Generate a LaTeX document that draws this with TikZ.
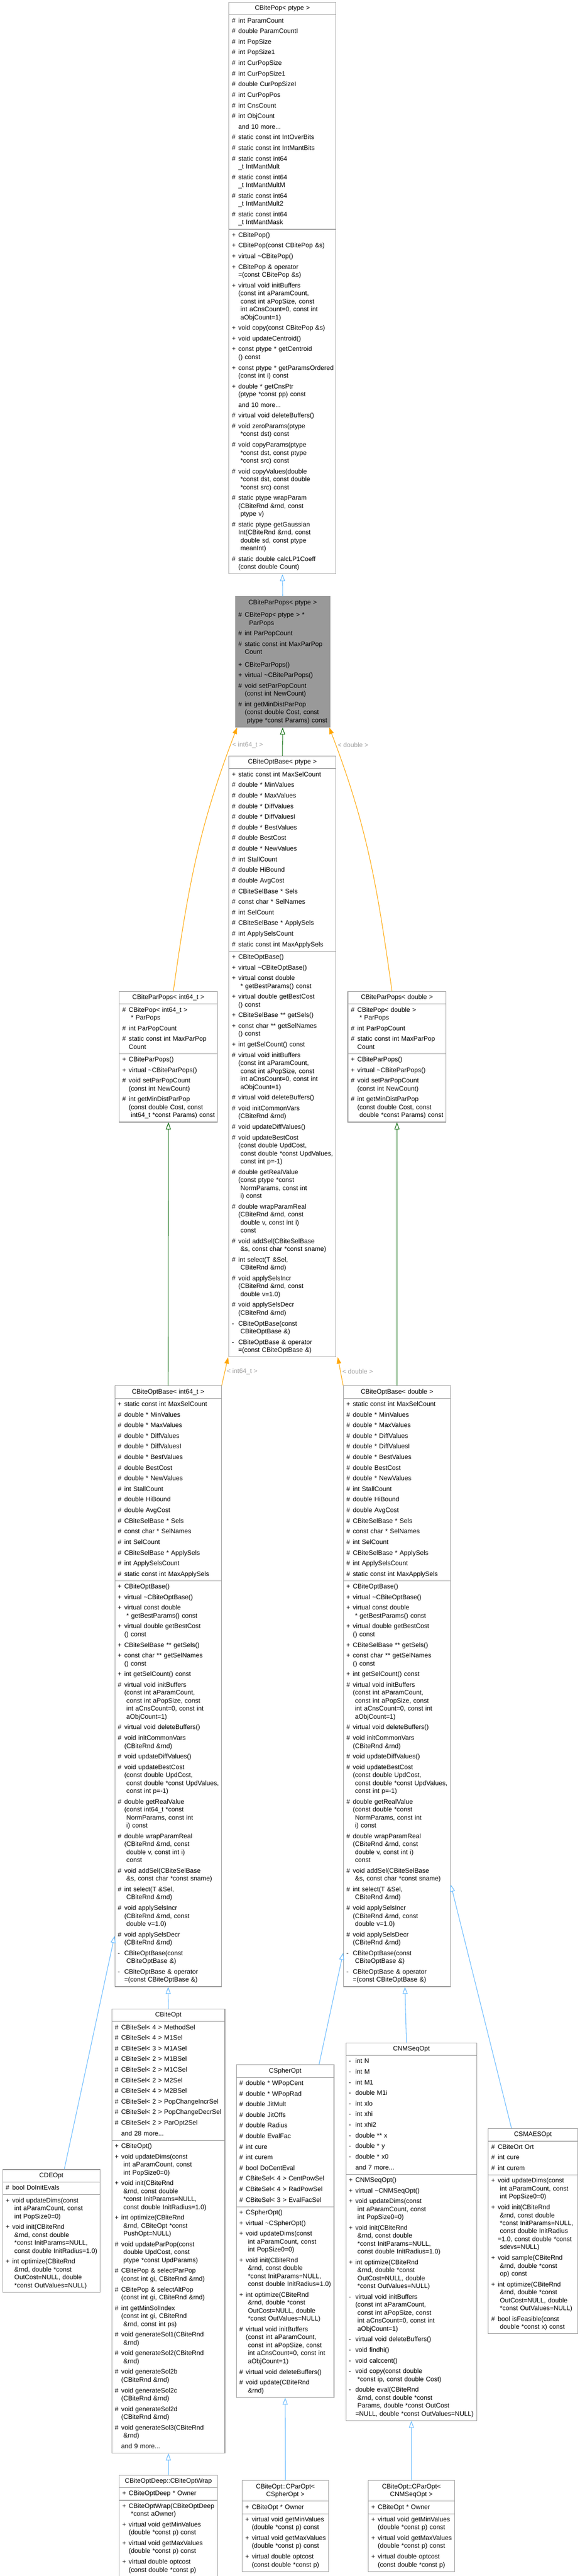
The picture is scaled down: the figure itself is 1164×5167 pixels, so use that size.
\documentclass[tikz,border=0pt]{standalone}
\usepackage{fontspec}
\setmainfont{Liberation Sans}
\usetikzlibrary{shapes.multipart,arrows.meta}
\definecolor{boxgray}{HTML}{999999}
\definecolor{edgeblue}{HTML}{63B8FF}
\definecolor{edgegreen}{HTML}{006400}
\definecolor{edgeorange}{HTML}{FFA500}
\definecolor{lblgray}{HTML}{A0A0A0}
\newcommand{\ttl}[1]{\makebox[\linewidth]{\begin{tabular}[t]{@{}c@{}}#1\end{tabular}}}
\newcommand{\mbrs}[1]{\begin{tabular}[t]{@{}l@{\hspace{5pt}}l@{}}#1\end{tabular}}
\newcommand{\ml}[1]{\begin{tabular}[t]{@{}l@{}}#1\end{tabular}}
\newcommand{\fr}[2]{\makebox[8pt][l]{#1}&#2\\}
\newcommand{\rw}[2]{\rule{0pt}{16.5pt}\makebox[8pt][l]{#1}&#2\\}
\begin{document}
\begin{tikzpicture}[x=1pt,y=-1pt,
    cls/.style={draw=boxgray,line width=1.2pt,fill=white,rectangle split,rectangle split parts=3,
      anchor=north west,inner xsep=6pt,inner ysep=4pt,font=\fontsize{13}{16}\selectfont},
    pub/.style={draw=edgeblue,line width=1.1pt,-{Triangle[open,length=14pt,width=10pt]}},
    prot/.style={draw=edgegreen,line width=1.1pt,-{Triangle[open,length=14pt,width=10pt]}},
    tmpl/.style={draw=edgeorange,line width=1.1pt,-{Triangle[length=13pt,width=9pt]}},
    lbl/.style={text=lblgray,font=\fontsize{13}{16}\selectfont}]
    \useasboundingbox (0,0) rectangle (1164,5167);
    \draw (459,4) node[cls,text width=203pt](Pop) {\ttl{CBitePop< ptype >}
      \nodepart{second}\mbrs{\fr{\#}{int ParamCount}\rw{\#}{double ParamCountI}\rw{\#}{int PopSize}
        \rw{\#}{int PopSize1}\rw{\#}{int CurPopSize}\rw{\#}{int CurPopSize1}\rw{\#}{double CurPopSizeI}
        \rw{\#}{int CurPopPos}\rw{\#}{int CnsCount}\rw{\#}{int ObjCount}\rw{}{and 10 more...}
        \rw{\#}{static const int IntOverBits}\rw{\#}{static const int IntMantBits}
        \rw{\#}{\ml{static const int64\\\_t IntMantMult}}\rw{\#}{\ml{static const int64\\\_t IntMantMultM}}
        \rw{\#}{\ml{static const int64\\\_t IntMantMult2}}\rw{\#}{\ml{static const int64\\\_t IntMantMask}}}
      \nodepart{third}\mbrs{\fr{+}{CBitePop()}\rw{+}{CBitePop(const CBitePop \&s)}\rw{+}{virtual \textasciitilde CBitePop()}
        \rw{+}{\ml{CBitePop \& operator\\=(const CBitePop \&s)}}
        \rw{+}{\ml{virtual void initBuffers\\(const int aParamCount,\\~const int aPopSize, const\\~int aCnsCount=0, const int\\~aObjCount=1)}}
        \rw{+}{void copy(const CBitePop \&s)}\rw{+}{void updateCentroid()}
        \rw{+}{\ml{const ptype * getCentroid\\() const}}\rw{+}{\ml{const ptype * getParamsOrdered\\(const int i) const}}
        \rw{+}{\ml{double * getCnsPtr\\(ptype *const pp) const}}\rw{}{and 10 more...}
        \rw{\#}{virtual void deleteBuffers()}\rw{\#}{\ml{void zeroParams(ptype\\~*const dst) const}}
        \rw{\#}{\ml{void copyParams(ptype\\~*const dst, const ptype\\~*const src) const}}
        \rw{\#}{\ml{void copyValues(double\\~*const dst, const double\\~*const src) const}}
        \rw{\#}{\ml{static ptype wrapParam\\(CBiteRnd \&rnd, const\\~ptype v)}}
        \rw{\#}{\ml{static ptype getGaussian\\Int(CBiteRnd \&rnd, const\\~double sd, const ptype\\~meanInt)}}
        \rw{\#}{\ml{static double calcLP1Coeff\\(const double Count)}}}};
    \draw (472,1196) node[cls,fill=boxgray,text width=178pt](PP) {\ttl{CBiteParPops< ptype >}
      \nodepart{second}\mbrs{\fr{\#}{\ml{CBitePop< ptype > *\\~~ParPops}}\rw{\#}{int ParPopCount}
        \rw{\#}{\ml{static const int MaxParPop\\Count}}}
      \nodepart{third}\mbrs{\fr{+}{CBiteParPops()}\rw{+}{virtual \textasciitilde CBiteParPops()}
        \rw{\#}{\ml{void setParPopCount\\(const int NewCount)}}
        \rw{\#}{\ml{int getMinDistParPop\\(const double Cost, const\\~ptype *const Params) const}}}};
    \draw (459,1516) node[cls,text width=203pt](OB) {\ttl{CBiteOptBase< ptype >}
      \nodepart{second}\mbrs{\fr{+}{static const int MaxSelCount}\rw{\#}{double * MinValues}\rw{\#}{double * MaxValues}
        \rw{\#}{double * DiffValues}\rw{\#}{double * DiffValuesI}\rw{\#}{double * BestValues}\rw{\#}{double BestCost}
        \rw{\#}{double * NewValues}\rw{\#}{int StallCount}\rw{\#}{double HiBound}\rw{\#}{double AvgCost}
        \rw{\#}{CBiteSelBase * Sels}\rw{\#}{const char * SelNames}\rw{\#}{int SelCount}
        \rw{\#}{CBiteSelBase * ApplySels}\rw{\#}{int ApplySelsCount}\rw{\#}{static const int MaxApplySels}}
      \nodepart{third}\mbrs{\fr{+}{CBiteOptBase()}\rw{+}{virtual \textasciitilde CBiteOptBase()}
        \rw{+}{\ml{virtual const double\\~* getBestParams() const}}\rw{+}{\ml{virtual double getBestCost\\() const}}
        \rw{+}{CBiteSelBase ** getSels()}\rw{+}{\ml{const char ** getSelNames\\() const}}\rw{+}{int getSelCount() const}
        \rw{\#}{\ml{virtual void initBuffers\\(const int aParamCount,\\~const int aPopSize, const\\~int aCnsCount=0, const int\\~aObjCount=1)}}
        \rw{\#}{virtual void deleteBuffers()}\rw{\#}{\ml{void initCommonVars\\(CBiteRnd \&rnd)}}\rw{\#}{void updateDiffValues()}
        \rw{\#}{\ml{void updateBestCost\\(const double UpdCost,\\~const double *const UpdValues,\\~const int p=-1)}}
        \rw{\#}{\ml{double getRealValue\\(const ptype *const\\~NormParams, const int\\~i) const}}
        \rw{\#}{\ml{double wrapParamReal\\(CBiteRnd \&rnd, const\\~double v, const int i)\\~const}}
        \rw{\#}{\ml{void addSel(CBiteSelBase\\~\&s, const char *const sname)}}\rw{\#}{\ml{int select(T \&Sel,\\~CBiteRnd \&rnd)}}
        \rw{\#}{\ml{void applySelsIncr\\(CBiteRnd \&rnd, const\\~double v=1.0)}}\rw{\#}{\ml{void applySelsDecr\\(CBiteRnd \&rnd)}}
        \rw{-}{\ml{CBiteOptBase(const\\~CBiteOptBase \&)}}\rw{-}{\ml{CBiteOptBase \& operator\\=(const CBiteOptBase \&)}}}};
    \draw (239,1988) node[cls,text width=185pt](PPi) {\ttl{CBiteParPops< int64\_t >}
      \nodepart{second}\mbrs{\fr{\#}{\ml{CBitePop< int64\_t >\\~* ParPops}}\rw{\#}{int ParPopCount}
        \rw{\#}{\ml{static const int MaxParPop\\Count}}}
      \nodepart{third}\mbrs{\fr{+}{CBiteParPops()}\rw{+}{virtual \textasciitilde CBiteParPops()}
        \rw{\#}{\ml{void setParPopCount\\(const int NewCount)}}
        \rw{\#}{\ml{int getMinDistParPop\\(const double Cost, const\\~int64\_t *const Params) const}}}};
    \draw (698,1988) node[cls,text width=185pt](PPd) {\ttl{CBiteParPops< double >}
      \nodepart{second}\mbrs{\fr{\#}{\ml{CBitePop< double >\\~* ParPops}}\rw{\#}{int ParPopCount}
        \rw{\#}{\ml{static const int MaxParPop\\Count}}}
      \nodepart{third}\mbrs{\fr{+}{CBiteParPops()}\rw{+}{virtual \textasciitilde CBiteParPops()}
        \rw{\#}{\ml{void setParPopCount\\(const int NewCount)}}
        \rw{\#}{\ml{int getMinDistParPop\\(const double Cost, const\\~double *const Params) const}}}};
    \draw (230,2779) node[cls,text width=202pt](OBi) {\ttl{CBiteOptBase< int64\_t >}
      \nodepart{second}\mbrs{\fr{+}{static const int MaxSelCount}\rw{\#}{double * MinValues}\rw{\#}{double * MaxValues}
        \rw{\#}{double * DiffValues}\rw{\#}{double * DiffValuesI}\rw{\#}{double * BestValues}\rw{\#}{double BestCost}
        \rw{\#}{double * NewValues}\rw{\#}{int StallCount}\rw{\#}{double HiBound}\rw{\#}{double AvgCost}
        \rw{\#}{CBiteSelBase * Sels}\rw{\#}{const char * SelNames}\rw{\#}{int SelCount}
        \rw{\#}{CBiteSelBase * ApplySels}\rw{\#}{int ApplySelsCount}\rw{\#}{static const int MaxApplySels}}
      \nodepart{third}\mbrs{\fr{+}{CBiteOptBase()}\rw{+}{virtual \textasciitilde CBiteOptBase()}
        \rw{+}{\ml{virtual const double\\~* getBestParams() const}}\rw{+}{\ml{virtual double getBestCost\\() const}}
        \rw{+}{CBiteSelBase ** getSels()}\rw{+}{\ml{const char ** getSelNames\\() const}}\rw{+}{int getSelCount() const}
        \rw{\#}{\ml{virtual void initBuffers\\(const int aParamCount,\\~const int aPopSize, const\\~int aCnsCount=0, const int\\~aObjCount=1)}}
        \rw{\#}{virtual void deleteBuffers()}\rw{\#}{\ml{void initCommonVars\\(CBiteRnd \&rnd)}}\rw{\#}{void updateDiffValues()}
        \rw{\#}{\ml{void updateBestCost\\(const double UpdCost,\\~const double *const UpdValues,\\~const int p=-1)}}
        \rw{\#}{\ml{double getRealValue\\(const int64\_t *const\\~NormParams, const int\\~i) const}}
        \rw{\#}{\ml{double wrapParamReal\\(CBiteRnd \&rnd, const\\~double v, const int i)\\~const}}
        \rw{\#}{\ml{void addSel(CBiteSelBase\\~\&s, const char *const sname)}}\rw{\#}{\ml{int select(T \&Sel,\\~CBiteRnd \&rnd)}}
        \rw{\#}{\ml{void applySelsIncr\\(CBiteRnd \&rnd, const\\~double v=1.0)}}\rw{\#}{\ml{void applySelsDecr\\(CBiteRnd \&rnd)}}
        \rw{-}{\ml{CBiteOptBase(const\\~CBiteOptBase \&)}}\rw{-}{\ml{CBiteOptBase \& operator\\=(const CBiteOptBase \&)}}}};
    \draw (689,2779) node[cls,text width=203pt](OBd) {\ttl{CBiteOptBase< double >}
      \nodepart{second}\mbrs{\fr{+}{static const int MaxSelCount}\rw{\#}{double * MinValues}\rw{\#}{double * MaxValues}
        \rw{\#}{double * DiffValues}\rw{\#}{double * DiffValuesI}\rw{\#}{double * BestValues}\rw{\#}{double BestCost}
        \rw{\#}{double * NewValues}\rw{\#}{int StallCount}\rw{\#}{double HiBound}\rw{\#}{double AvgCost}
        \rw{\#}{CBiteSelBase * Sels}\rw{\#}{const char * SelNames}\rw{\#}{int SelCount}
        \rw{\#}{CBiteSelBase * ApplySels}\rw{\#}{int ApplySelsCount}\rw{\#}{static const int MaxApplySels}}
      \nodepart{third}\mbrs{\fr{+}{CBiteOptBase()}\rw{+}{virtual \textasciitilde CBiteOptBase()}
        \rw{+}{\ml{virtual const double\\~* getBestParams() const}}\rw{+}{\ml{virtual double getBestCost\\() const}}
        \rw{+}{CBiteSelBase ** getSels()}\rw{+}{\ml{const char ** getSelNames\\() const}}\rw{+}{int getSelCount() const}
        \rw{\#}{\ml{virtual void initBuffers\\(const int aParamCount,\\~const int aPopSize, const\\~int aCnsCount=0, const int\\~aObjCount=1)}}
        \rw{\#}{virtual void deleteBuffers()}\rw{\#}{\ml{void initCommonVars\\(CBiteRnd \&rnd)}}\rw{\#}{void updateDiffValues()}
        \rw{\#}{\ml{void updateBestCost\\(const double UpdCost,\\~const double *const UpdValues,\\~const int p=-1)}}
        \rw{\#}{\ml{double getRealValue\\(const double *const\\~NormParams, const int\\~i) const}}
        \rw{\#}{\ml{double wrapParamReal\\(CBiteRnd \&rnd, const\\~double v, const int i)\\~const}}
        \rw{\#}{\ml{void addSel(CBiteSelBase\\~\&s, const char *const sname)}}\rw{\#}{\ml{int select(T \&Sel,\\~CBiteRnd \&rnd)}}
        \rw{\#}{\ml{void applySelsIncr\\(CBiteRnd \&rnd, const\\~double v=1.0)}}\rw{\#}{\ml{void applySelsDecr\\(CBiteRnd \&rnd)}}
        \rw{-}{\ml{CBiteOptBase(const\\~CBiteOptBase \&)}}\rw{-}{\ml{CBiteOptBase \& operator\\=(const CBiteOptBase \&)}}}};
    \draw (5,4351) node[cls,text width=183pt](DE) {\ttl{CDEOpt}
      \nodepart{second}\mbrs{\fr{\#}{bool DoInitEvals}}
      \nodepart{third}\mbrs{\fr{+}{\ml{void updateDims(const\\~int aParamCount, const\\~int PopSize0=0)}}
        \rw{+}{\ml{void init(CBiteRnd\\~\&rnd, const double\\~*const InitParams=NULL,\\~const double InitRadius=1.0)}}
        \rw{+}{\ml{int optimize(CBiteRnd\\~\&rnd, double *const\\~OutCost=NULL, double\\~*const OutValues=NULL)}}}};
    \draw (224,4029) node[cls,text width=215pt](BO) {\ttl{CBiteOpt}
      \nodepart{second}\mbrs{\fr{\#}{CBiteSel< 4 > MethodSel}\rw{\#}{CBiteSel< 4 > M1Sel}\rw{\#}{CBiteSel< 3 > M1ASel}
        \rw{\#}{CBiteSel< 2 > M1BSel}\rw{\#}{CBiteSel< 2 > M1CSel}\rw{\#}{CBiteSel< 2 > M2Sel}
        \rw{\#}{CBiteSel< 4 > M2BSel}\rw{\#}{CBiteSel< 2 > PopChangeIncrSel}\rw{\#}{CBiteSel< 2 > PopChangeDecrSel}
        \rw{\#}{CBiteSel< 2 > ParOpt2Sel}\rw{}{and 28 more...}}
      \nodepart{third}\mbrs{\fr{+}{CBiteOpt()}\rw{+}{\ml{void updateDims(const\\~int aParamCount, const\\~int PopSize0=0)}}
        \rw{+}{\ml{void init(CBiteRnd\\~\&rnd, const double\\~*const InitParams=NULL,\\~const double InitRadius=1.0)}}
        \rw{+}{\ml{int optimize(CBiteRnd\\~\&rnd, CBiteOpt *const\\~PushOpt=NULL)}}
        \rw{\#}{\ml{void updateParPop(const\\~double UpdCost, const\\~ptype *const UpdParams)}}
        \rw{\#}{\ml{CBitePop \& selectParPop\\(const int gi, CBiteRnd \&rnd)}}\rw{\#}{\ml{CBitePop \& selectAltPop\\(const int gi, CBiteRnd \&rnd)}}
        \rw{\#}{\ml{int getMinSolIndex\\(const int gi, CBiteRnd\\~\&rnd, const int ps)}}
        \rw{\#}{\ml{void generateSol1(CBiteRnd\\~\&rnd)}}\rw{\#}{\ml{void generateSol2(CBiteRnd\\~\&rnd)}}
        \rw{\#}{\ml{void generateSol2b\\(CBiteRnd \&rnd)}}\rw{\#}{\ml{void generateSol2c\\(CBiteRnd \&rnd)}}
        \rw{\#}{\ml{void generateSol2d\\(CBiteRnd \&rnd)}}\rw{\#}{\ml{void generateSol3(CBiteRnd\\~\&rnd)}}
        \rw{}{and 9 more...}}};
    \draw (474,4141) node[cls,text width=184pt](SO) {\ttl{CSpherOpt}
      \nodepart{second}\mbrs{\fr{\#}{double * WPopCent}\rw{\#}{double * WPopRad}\rw{\#}{double JitMult}
        \rw{\#}{double JitOffs}\rw{\#}{double Radius}\rw{\#}{double EvalFac}\rw{\#}{int cure}\rw{\#}{int curem}
        \rw{\#}{bool DoCentEval}\rw{\#}{CBiteSel< 4 > CentPowSel}\rw{\#}{CBiteSel< 4 > RadPowSel}\rw{\#}{CBiteSel< 3 > EvalFacSel}}
      \nodepart{third}\mbrs{\fr{+}{CSpherOpt()}\rw{+}{virtual \textasciitilde CSpherOpt()}
        \rw{+}{\ml{void updateDims(const\\~int aParamCount, const\\~int PopSize0=0)}}
        \rw{+}{\ml{void init(CBiteRnd\\~\&rnd, const double\\~*const InitParams=NULL,\\~const double InitRadius=1.0)}}
        \rw{+}{\ml{int optimize(CBiteRnd\\~\&rnd, double *const\\~OutCost=NULL, double\\~*const OutValues=NULL)}}
        \rw{\#}{\ml{virtual void initBuffers\\(const int aParamCount,\\~const int aPopSize, const\\~int aCnsCount=0, const int\\~aObjCount=1)}}
        \rw{\#}{virtual void deleteBuffers()}\rw{\#}{\ml{void update(CBiteRnd\\~\&rnd)}}}};
    \draw (694,4097) node[cls,text width=251pt](NM) {\ttl{CNMSeqOpt}
      \nodepart{second}\mbrs{\fr{-}{int N}\rw{-}{int M}\rw{-}{int M1}\rw{-}{double M1i}\rw{-}{int xlo}\rw{-}{int xhi}
        \rw{-}{int xhi2}\rw{-}{double ** x}\rw{-}{double * y}\rw{-}{double * x0}\rw{}{and 7 more...}}
      \nodepart{third}\mbrs{\fr{+}{CNMSeqOpt()}\rw{+}{virtual \textasciitilde CNMSeqOpt()}
        \rw{+}{\ml{void updateDims(const\\~int aParamCount, const\\~int PopSize0=0)}}
        \rw{+}{\ml{void init(CBiteRnd\\~\&rnd, const double\\~*const InitParams=NULL,\\~const double InitRadius=1.0)}}
        \rw{+}{\ml{int optimize(CBiteRnd\\~\&rnd, double *const\\~OutCost=NULL, double\\~*const OutValues=NULL)}}
        \rw{-}{\ml{virtual void initBuffers\\(const int aParamCount,\\~const int aPopSize, const\\~int aCnsCount=0, const int\\~aObjCount=1)}}
        \rw{-}{virtual void deleteBuffers()}\rw{-}{void findhi()}\rw{-}{void calccent()}
        \rw{-}{\ml{void copy(const double\\~*const ip, const double Cost)}}
        \rw{-}{\ml{double eval(CBiteRnd\\~\&rnd, const double *const\\~Params, double *const OutCost\\=NULL, double *const OutValues=NULL)}}}};
    \draw (980,4269) node[cls,text width=167pt](SM) {\ttl{CSMAESOpt}
      \nodepart{second}\mbrs{\fr{\#}{CBiteOrt Ort}\rw{\#}{int cure}\rw{\#}{int curem}}
      \nodepart{third}\mbrs{\fr{+}{\ml{void updateDims(const\\~int aParamCount, const\\~int PopSize0=0)}}
        \rw{+}{\ml{void init(CBiteRnd\\~\&rnd, const double\\~*const InitParams=NULL,\\~const double InitRadius\\=1.0, const double *const\\~sdevs=NULL)}}
        \rw{+}{\ml{void sample(CBiteRnd\\~\&rnd, double *const\\~op) const}}
        \rw{+}{\ml{int optimize(CBiteRnd\\~\&rnd, double *const\\~OutCost=NULL, double\\~*const OutValues=NULL)}}
        \rw{\#}{\ml{bool isFeasible(const\\~double *const x) const}}}};
    \draw (239,4964) node[cls,text width=185pt](BW) {\ttl{CBiteOptDeep::CBiteOptWrap}
      \nodepart{second}\mbrs{\fr{+}{CBiteOptDeep * Owner}}
      \nodepart{third}\mbrs{\fr{+}{\ml{CBiteOptWrap(CBiteOptDeep\\~*const aOwner)}}
        \rw{+}{\ml{virtual void getMinValues\\(double *const p) const}}\rw{+}{\ml{virtual void getMaxValues\\(double *const p) const}}
        \rw{+}{\ml{virtual double optcost\\(const double *const p)}}}};
    \draw (486,4975) node[cls,text width=161pt](PS) {\ttl{CBiteOpt::CParOpt<\\CSpherOpt >}
      \nodepart{second}\mbrs{\fr{+}{CBiteOpt * Owner}}
      \nodepart{third}\mbrs{\fr{+}{\ml{virtual void getMinValues\\(double *const p) const}}\rw{+}{\ml{virtual void getMaxValues\\(double *const p) const}}
        \rw{+}{\ml{virtual double optcost\\(const double *const p)}}}};
    \draw (739,4975) node[cls,text width=161pt](PN) {\ttl{CBiteOpt::CParOpt<\\CNMSeqOpt >}
      \nodepart{second}\mbrs{\fr{+}{CBiteOpt * Owner}}
      \nodepart{third}\mbrs{\fr{+}{\ml{virtual void getMinValues\\(double *const p) const}}\rw{+}{\ml{virtual void getMaxValues\\(double *const p) const}}
        \rw{+}{\ml{virtual double optcost\\(const double *const p)}}}};
    \draw[pub] (PP.north) -- (Pop.south);
    \draw[prot] (OB.north) -- (PP.south);
    \draw[tmpl] ([xshift=10pt]PPi.north) to[out=82,in=249] node[lbl,pos=0.94,right]{< int64\_t >} ([xshift=4pt]PP.south west);
    \draw[tmpl] ([xshift=-10pt]PPd.north) to[out=98,in=291] node[lbl,pos=0.94,right]{< double >} ([xshift=-2pt]PP.south east);
    \draw[prot] (OBi.north) -- (PPi.south);
    \draw[prot] (OBd.north) -- (PPd.south);
    \draw[tmpl] (OBi.north east) -- node[lbl,right]{< int64\_t >} ([xshift=-1pt]OB.south west);
    \draw[tmpl] (OBd.north west) -- node[lbl,right]{< double >} ([xshift=3pt]OB.south east);
    \draw[pub] ([xshift=26pt]DE.north) -- ([yshift=102pt]OBi.south west);
    \draw[pub] (BO.north) -- (OBi.south);
    \draw[pub] ([xshift=68pt]SO.north) -- ([yshift=68pt]OBd.south west);
    \draw[pub] ([xshift=-10pt]NM.north) -- ([xshift=16pt]OBd.south);
    \draw[pub] ([xshift=-43pt]SM.north) -- ([yshift=205pt]OBd.south east);
    \draw[pub] (BW.north) -- (BO.south);
    \draw[pub] (PS.north) -- (SO.south);
    \draw[pub] (PN.north) -- (NM.south);
\end{tikzpicture}
\end{document}
